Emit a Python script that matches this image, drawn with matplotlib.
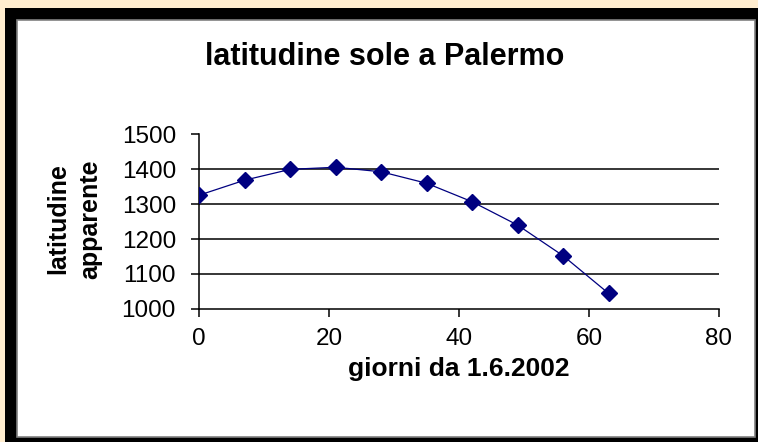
import numpy as np
import matplotlib
matplotlib.use("Agg")
import matplotlib.pyplot as plt
from matplotlib import font_manager
from matplotlib.patches import Rectangle

# giorni dal 1.6.2002 e latitudine apparente del sole
giorni = [0, 7, 14, 21, 28, 35, 42, 49, 56, 63]
latitudine = [1326, 1369, 1400, 1406, 1393, 1360, 1307, 1240, 1152, 1044]

x_ticks = [0, 20, 40, 60, 80]
y_ticks = [1000, 1100, 1200, 1300, 1400, 1500]

title = "latitudine sole a Palermo"
x_label = "giorni da 1.6.2002"
y_label = "latitudine\napparente"

# narrow font for tick labels if there is one
names = {f.name for f in font_manager.fontManager.ttflist}
narrow = "Liberation Sans Narrow" if "Liberation Sans Narrow" in names else "Liberation Sans"

W, H = 758, 442
fig = plt.figure(figsize=(W / 100, H / 100), dpi=100)
fig.patch.set_facecolor("#FFEDCF")

# black frame + white panel (pixel coords, origin bottom-left)
fig.patches.append(Rectangle((5, -10), W + 10, H - 8 + 10, transform=None,
                             facecolor="black", edgecolor="none", zorder=-3))
fig.patches.append(Rectangle((16.5, 5.5), 738, 417, transform=None,
                             facecolor="white", edgecolor="#808080", linewidth=1.2, zorder=-2))

ax = fig.add_axes([199.3 / W, (H - 308.7) / H, (719 - 199.3) / W, (308.7 - 134.5) / H])
ax.set_facecolor("none")

ax.plot(giorni, latitudine, color="#000080", linewidth=0.9, marker="D",
        markersize=8.5, markerfacecolor="#000080", markeredgecolor="#000080", zorder=3)

ax.set_xlim(x_ticks[0], x_ticks[-1])
ax.set_ylim(y_ticks[0], y_ticks[-1])
ax.set_xticks(x_ticks)
ax.set_yticks(y_ticks)

for v in y_ticks[1:-1]:
    ax.axhline(v, color="black", linewidth=1.1, zorder=1)

for s in ["top", "right"]:
    ax.spines[s].set_visible(False)
for s in ["left", "bottom"]:
    ax.spines[s].set_linewidth(1.1)

ax.tick_params(axis="both", direction="out", length=5.8, width=1.1, color="black")
ax.tick_params(axis="x", pad=8)
ax.tick_params(axis="y", pad=11)
for lab in ax.get_xticklabels() + ax.get_yticklabels():
    lab.set_fontfamily(narrow)
    lab.set_fontsize(20 if narrow != "Liberation Sans" else 17.5)

fig.text(384.5 / W, (H - 65) / H, title, ha="center", va="baseline",
         fontfamily="Liberation Sans", fontweight="bold", fontsize=22)
fig.text(459 / W, (H - 376) / H, x_label, ha="center", va="baseline",
         fontfamily="Liberation Sans", fontweight="bold", fontsize=19)
fig.text(74 / W, (H - 219) / H, y_label, ha="center", va="center", rotation=90,
         multialignment="center", linespacing=1.4,
         fontfamily="Liberation Sans", fontweight="bold", fontsize=18)

fig.savefig("out.png", dpi=100, facecolor=fig.get_facecolor())
